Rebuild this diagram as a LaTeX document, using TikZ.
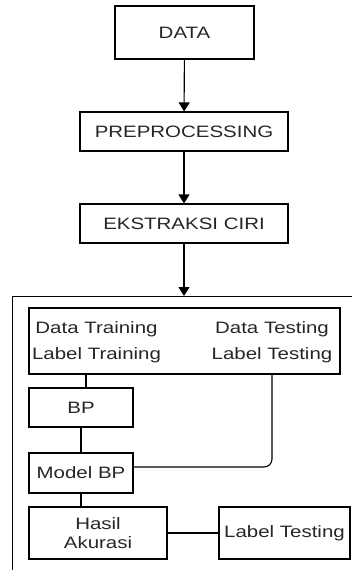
\documentclass[tikz,border=0pt]{standalone}
\usepackage{fontspec}
\setmainfont{Liberation Sans}[FakeStretch=1.24]
\usepackage{tikz}
\usetikzlibrary{arrows.meta,calc,positioning}

\tikzset{
  box/.style={draw, line width=1.1pt, inner sep=0pt, align=center,
    text=black!85, font=\fontsize{16.5}{19.5}\selectfont},
  lbl/.style={inner sep=0pt, align=center, text=black!85,
    font=\fontsize{16.5}{19.5}\selectfont},
  flow/.style={-{Triangle[width=11pt,length=9pt]}, line width=1.1pt},
  link/.style={line width=1.1pt},
}

\begin{document}
\begin{tikzpicture}[x=1pt, y=-1pt]

  \useasboundingbox (0,0) rectangle (352,570) ;

  % main chain
  \node [box, minimum width=139pt, minimum height=53pt] (data) at (184.5,32.5) {DATA} ;
  \node [box, minimum width=208pt, minimum height=39pt] (prep) at (184,131.5) {PREPROCESSING} ;
  \node [box, minimum width=208pt, minimum height=39pt] (ekstr) at (184,223.5) {EKSTRAKSI CIRI} ;
  \node [draw, link, minimum width=348pt, minimum height=284pt, inner sep=0pt,
    anchor=north west] (frame) at (12,296) {} ;

  \draw [flow] (data) -- (prep) ;
  \draw [flow] (prep) -- (ekstr) ;
  \draw [flow] (ekstr) -- (ekstr |- frame.north) ;

  % classification part
  \node [box, minimum width=311pt, minimum height=66pt] (split) at (184.5,341) {} ;
  \node [lbl] (train) at (96.5,342) {Data Training\\[7pt]Label Training} ;
  \node [lbl] (test) at (272,342) {Data Testing\\[7pt]Label Testing} ;
  \node [box, minimum width=104pt, minimum height=39pt] (bp) at (81,407.5) {BP} ;
  \node [box, minimum width=104pt, minimum height=40pt] (model) at (81,473) {Model BP} ;
  \node [box, minimum width=138pt, minimum height=52pt] (hasil) at (98,533) {Hasil\\Akurasi} ;
  \node [box, minimum width=131pt, minimum height=52pt] (lbtest) at (284.5,533) {Label Testing} ;

  \draw [link] ([xshift=5pt]bp.north) -- ([xshift=5pt]bp.north |- split.south) ;
  \draw [link] (bp) -- (model) ;
  \draw [link] (model.south) -- (model.south |- hasil.north) ;
  \draw [link, rounded corners=8pt] ([yshift=6pt]model.east) -| (split.south -| test) ;
  \draw [link] (hasil) -- (lbtest) ;

\end{tikzpicture}
\end{document}
